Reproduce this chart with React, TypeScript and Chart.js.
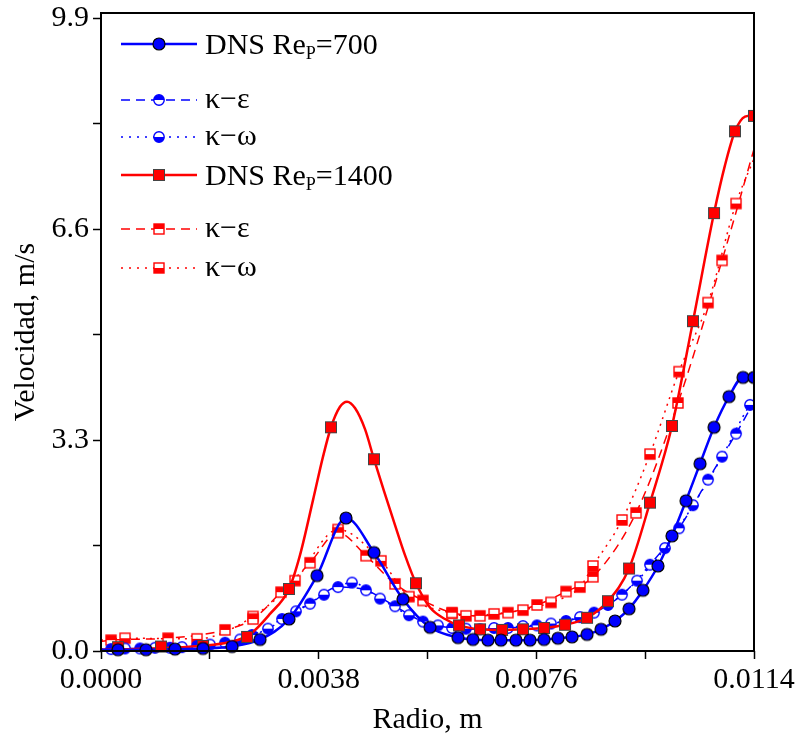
import React, { useEffect, useRef } from 'react';
import { Chart, registerables } from 'chart.js';

Chart.register(...registerables);

const FONT = '"Liberation Serif", "Times New Roman", serif';
const BLUE = '#0000ff';
const RED = '#ff0000';

// Axes
const xMin = 0;
const xMax = 0.0114;
const yMin = 0;
const yMax = 9.98;
const xMajorTicks = [0, 0.0038, 0.0076, 0.0114];
const xTickLabels = ['0.0000', '0.0038', '0.0076', '0.0114'];
const xMinorTicks = [0.0019, 0.0057, 0.0095];
const yMajorTicks = [0, 3.3, 6.6, 9.9];
const yTickLabels = ['0.0', '3.3', '6.6', '9.9'];
const yMinorTicks = [1.65, 4.95, 8.25];
const xTitle = 'Radio, m';
const yTitle = 'Velocidad, m/s';

// Legend
const legendMain = ['DNS Re', 'κ−ε', 'κ−ω', 'DNS Re', 'κ−ε', 'κ−ω'];
const legendSub = ['P', '', '', 'P', '', ''];
const legendTail = ['=700', '', '', '=1400', '', ''];

// DNS Re_P = 700 (markers, line drawn through them)
const dns700X = [0.000297, 0.000786, 0.001292, 0.001781, 0.002287, 0.002776, 0.003282, 0.003771, 0.004277, 0.004766, 0.005272, 0.005744, 0.006233, 0.006494, 0.006756, 0.006983, 0.007245, 0.007489, 0.007734, 0.007978, 0.008223, 0.008485, 0.008729, 0.008973, 0.009218, 0.009462, 0.009724, 0.009968, 0.010213, 0.010458, 0.010702, 0.010964, 0.011208, 0.0114];
const dns700Y = [0.02, 0.02, 0.03, 0.04, 0.07, 0.18, 0.50, 1.18, 2.08, 1.54, 0.81, 0.37, 0.21, 0.18, 0.17, 0.17, 0.17, 0.17, 0.18, 0.20, 0.22, 0.26, 0.34, 0.47, 0.66, 0.95, 1.33, 1.80, 2.35, 2.93, 3.50, 3.98, 4.28, 4.28];
const dns700StartY = 0.02;

// DNS Re_P = 1400 (markers)
const dns1400X = [0.000297, 0.001047, 0.001781, 0.002549, 0.003282, 0.004015, 0.004766, 0.005499, 0.00625, 0.006617, 0.007001, 0.007367, 0.007734, 0.008101, 0.008485, 0.008851, 0.009218, 0.009584, 0.009968, 0.010335, 0.010702, 0.011068, 0.0114];
const dns1400Y = [0.06, 0.07, 0.08, 0.22, 0.97, 3.50, 3.00, 1.06, 0.40, 0.34, 0.33, 0.34, 0.36, 0.41, 0.52, 0.78, 1.29, 2.32, 3.52, 5.16, 6.85, 8.13, 8.37];
// DNS Re_P = 1400 (fitted curve)
const dns1400CurveX = [0, 0.000855, 0.001728, 0.002252, 0.002601, 0.00295, 0.003282, 0.003474, 0.003701, 0.003876, 0.004015, 0.004172, 0.004295, 0.004434, 0.004609, 0.004766, 0.004941, 0.005133, 0.005307, 0.005499, 0.005744, 0.006006, 0.00625, 0.006617, 0.007001, 0.007367, 0.007734, 0.008101, 0.008485, 0.008851, 0.009218, 0.009584, 0.009968, 0.010335, 0.010702, 0.010894, 0.011068, 0.011243, 0.0114];
const dns1400CurveY = [0.02, 0.04, 0.08, 0.14, 0.26, 0.58, 0.97, 1.5, 2.36, 3.04, 3.5, 3.82, 3.9, 3.8, 3.47, 3.0, 2.5, 1.97, 1.5, 1.06, 0.68, 0.5, 0.4, 0.34, 0.33, 0.34, 0.36, 0.41, 0.52, 0.78, 1.29, 2.32, 3.52, 5.16, 6.85, 7.6, 8.13, 8.36, 8.38];

// k-epsilon, Re_P = 700
const ke700X = [0.000175, 0.000681, 0.001205, 0.001676, 0.002165, 0.002636, 0.00316, 0.003649, 0.004138, 0.004626, 0.005133, 0.005621, 0.006128, 0.006617, 0.007105, 0.007612, 0.008118, 0.008607, 0.009096, 0.009584, 0.010091, 0.010598, 0.011086];
const ke700Y = [0.03, 0.04, 0.05, 0.08, 0.13, 0.25, 0.50, 0.74, 1.00, 0.95, 0.70, 0.46, 0.36, 0.34, 0.36, 0.40, 0.47, 0.60, 0.88, 1.35, 1.92, 2.68, 3.40];
const ke700Ends = [0.02, 3.9];

// k-omega, Re_P = 700
const kw700X = [0.000419, 0.000943, 0.001414, 0.001903, 0.002427, 0.002915, 0.003404, 0.003893, 0.004382, 0.004871, 0.005377, 0.005883, 0.006372, 0.006861, 0.007367, 0.007856, 0.008362, 0.008851, 0.009358, 0.009846, 0.010335, 0.010842, 0.01133];
const kw700Y = [0.04, 0.05, 0.06, 0.10, 0.18, 0.35, 0.62, 0.88, 1.07, 0.82, 0.56, 0.40, 0.35, 0.36, 0.39, 0.43, 0.53, 0.72, 1.10, 1.61, 2.28, 3.04, 3.85];
const kw700Ends = [0.03, 3.92];

// k-epsilon, Re_P = 1400
const ke1400X = [0.000175, 0.00117, 0.002165, 0.002654, 0.003142, 0.003649, 0.004138, 0.004626, 0.005133, 0.005621, 0.006128, 0.006617, 0.007105, 0.007612, 0.008118, 0.008589, 0.00934, 0.010073, 0.010842];
const ke1400Y = [0.17, 0.20, 0.33, 0.50, 0.92, 1.38, 1.85, 1.49, 1.05, 0.79, 0.60, 0.55, 0.60, 0.72, 0.93, 1.16, 2.16, 3.88, 6.11];
const ke1400Ends = [0.15, 7.85];

// k-omega, Re_P = 1400
const kw1400X = [0.000419, 0.001676, 0.002654, 0.003387, 0.004138, 0.004888, 0.005377, 0.006128, 0.006372, 0.006861, 0.007367, 0.007856, 0.008362, 0.008589, 0.009096, 0.009584, 0.010091, 0.010598, 0.011086];
const kw1400Y = [0.20, 0.19, 0.54, 1.10, 1.90, 1.41, 0.85, 0.59, 0.55, 0.58, 0.64, 0.76, 1.0, 1.33, 2.05, 3.08, 4.37, 5.45, 7.0];
const kw1400Ends = [0.17, 7.7];

function pts(xs: number[], ys: number[]) {
  return xs.map((x, i) => ({ x, y: ys[i] }));
}
function withEnds(xs: number[], ys: number[], ends: number[]) {
  return [{ x: xMin, y: ends[0] }, ...pts(xs, ys), { x: xMax, y: ends[1] }];
}

function makeMarker(kind: string): HTMLCanvasElement {
  const c = document.createElement('canvas');
  const s = 16;
  c.width = s;
  c.height = s;
  const g = c.getContext('2d') as CanvasRenderingContext2D;
  const m = s / 2;
  if (kind === 'blueDot') {
    g.beginPath();
    g.arc(m, m, 6, 0, Math.PI * 2);
    g.fillStyle = BLUE;
    g.fill();
    g.lineWidth = 1.2;
    g.strokeStyle = '#000';
    g.stroke();
  } else if (kind === 'blueTop' || kind === 'blueBottom') {
    const r = 5.2;
    g.beginPath();
    g.arc(m, m, r, 0, Math.PI * 2);
    g.fillStyle = '#fff';
    g.fill();
    g.beginPath();
    if (kind === 'blueTop') g.arc(m, m, r, Math.PI, 0);
    else g.arc(m, m, r, 0, Math.PI);
    g.closePath();
    g.fillStyle = BLUE;
    g.fill();
    g.beginPath();
    g.arc(m, m, r, 0, Math.PI * 2);
    g.lineWidth = 1.4;
    g.strokeStyle = BLUE;
    g.stroke();
  } else if (kind === 'redSquare') {
    g.fillStyle = RED;
    g.fillRect(m - 5.5, m - 5.5, 11, 11);
    g.lineWidth = 1;
    g.strokeStyle = '#444';
    g.strokeRect(m - 5.5, m - 5.5, 11, 11);
  } else {
    const h = 5;
    g.fillStyle = '#fff';
    g.fillRect(m - h, m - h, 2 * h, 2 * h);
    g.fillStyle = RED;
    if (kind === 'redTop') g.fillRect(m - h, m - h, 2 * h, h);
    else g.fillRect(m - h, m, 2 * h, h);
    g.lineWidth = 1.4;
    g.strokeStyle = RED;
    g.strokeRect(m - h, m - h, 2 * h, 2 * h);
  }
  return c;
}

export default function App() {
  const ref = useRef<HTMLCanvasElement | null>(null);

  useEffect(() => {
    const canvas = ref.current;
    if (!canvas) return;

    const mk = {
      blueDot: makeMarker('blueDot'),
      blueTop: makeMarker('blueTop'),
      blueBottom: makeMarker('blueBottom'),
      redSquare: makeMarker('redSquare'),
      redTop: makeMarker('redTop'),
      redBottom: makeMarker('redBottom'),
    };

    const legendStyle = [
      { color: BLUE, width: 2.5, dash: [] as number[], marker: mk.blueDot },
      { color: BLUE, width: 1.5, dash: [9, 6], marker: mk.blueTop },
      { color: BLUE, width: 1.5, dash: [2, 6], marker: mk.blueBottom },
      { color: RED, width: 2.5, dash: [] as number[], marker: mk.redSquare },
      { color: RED, width: 1.5, dash: [9, 6], marker: mk.redTop },
      { color: RED, width: 1.5, dash: [2, 6], marker: mk.redBottom },
    ];
    const rowY = [44, 100, 137, 175, 229, 268];

    const legendPlugin = {
      id: 'customLegend',
      afterDatasetsDraw(chart: any) {
        const ctx = chart.ctx as CanvasRenderingContext2D;
        ctx.save();
        legendMain.forEach((txt, i) => {
          const st = legendStyle[i];
          const y = rowY[i];
          ctx.beginPath();
          ctx.setLineDash(st.dash);
          ctx.lineWidth = st.width;
          ctx.strokeStyle = st.color;
          ctx.moveTo(121, y);
          ctx.lineTo(197, y);
          ctx.stroke();
          ctx.setLineDash([]);
          const mImg = st.marker;
          ctx.drawImage(mImg, 159 - mImg.width / 2, y - mImg.height / 2);
          ctx.fillStyle = '#000';
          ctx.textAlign = 'left';
          ctx.textBaseline = 'alphabetic';
          const isDns = legendSub[i] !== '';
          const base = isDns ? y + 10 : y + 8;
          ctx.font = `30px ${FONT}`;
          let x = 205;
          ctx.fillText(txt, x, base);
          x += ctx.measureText(txt).width;
          if (legendSub[i]) {
            ctx.font = `18px ${FONT}`;
            ctx.fillText(legendSub[i], x, base + 5);
            x += ctx.measureText(legendSub[i]).width;
          }
          if (legendTail[i]) {
            ctx.font = `30px ${FONT}`;
            ctx.fillText(legendTail[i], x, base);
          }
        });
        ctx.restore();
      },
      afterDraw(chart: any) {
        const { left, right, top, bottom } = chart.chartArea;
        const ctx = chart.ctx as CanvasRenderingContext2D;
        ctx.save();
        ctx.lineWidth = 2;
        ctx.strokeStyle = '#000';
        ctx.strokeRect(left, top, right - left, bottom - top);
        ctx.restore();
      },
    };

    const markClip = { left: 8, top: 8, right: 0, bottom: 8 };
    const curve = (label: string, data: any[], color: string, width: number, dash: number[]) => ({
      label,
      data,
      borderColor: color,
      borderWidth: width,
      borderDash: dash,
      pointRadius: 0,
      pointHoverRadius: 0,
      showLine: true,
      fill: false,
      cubicInterpolationMode: 'monotone',
      clip: 1,
    });
    const marks = (label: string, data: any[], style: HTMLCanvasElement) => ({
      label,
      data,
      showLine: false,
      pointStyle: style,
      pointRadius: 6,
      pointHoverRadius: 6,
      clip: markClip,
    });

    const near = (v: number, arr: number[]) => arr.findIndex((a) => Math.abs(a - v) < 1e-9);

    const chart = new Chart(canvas, {
      type: 'line',
      data: {
        datasets: [
          marks('DNS ReP=700', pts(dns700X, dns700Y), mk.blueDot),
          marks('DNS ReP=1400', pts(dns1400X, dns1400Y), mk.redSquare),
          curve('DNS ReP=700 line', [{ x: xMin, y: dns700StartY }, ...pts(dns700X, dns700Y)], BLUE, 2.5, []),
          curve('DNS ReP=1400 line', pts(dns1400CurveX, dns1400CurveY), RED, 2.5, []),
          marks('k-e 700', pts(ke700X, ke700Y), mk.blueTop),
          marks('k-w 700', pts(kw700X, kw700Y), mk.blueBottom),
          marks('k-e 1400', pts(ke1400X, ke1400Y), mk.redTop),
          marks('k-w 1400', pts(kw1400X, kw1400Y), mk.redBottom),
          curve('k-e 700 line', withEnds(ke700X, ke700Y, ke700Ends), BLUE, 1.5, [9, 6]),
          curve('k-w 700 line', withEnds(kw700X, kw700Y, kw700Ends), BLUE, 1.5, [2, 5]),
          curve('k-e 1400 line', withEnds(ke1400X, ke1400Y, ke1400Ends), RED, 1.5, [9, 6]),
          curve('k-w 1400 line', withEnds(kw1400X, kw1400Y, kw1400Ends), RED, 1.5, [2, 5]),
        ] as any,
      },
      options: {
        animation: false,
        responsive: false,
        maintainAspectRatio: false,
        events: [],
        layout: { padding: { left: 0, top: 13, right: 43, bottom: 0 } },
        plugins: { legend: { display: false }, tooltip: { enabled: false } },
        scales: {
          x: {
            type: 'linear',
            min: xMin,
            max: xMax,
            position: 'bottom',
            border: { display: false },
            grid: { display: true, drawOnChartArea: false, drawTicks: true, tickLength: 8, tickColor: '#000', tickWidth: 1.5 },
            afterBuildTicks: (scale: any) => {
              scale.ticks = [...xMajorTicks, ...xMinorTicks].sort((a, b) => a - b).map((v) => ({ value: v }));
            },
            afterFit: (scale: any) => {
              scale.height = 91;
              scale.paddingLeft = 0;
              scale.paddingRight = 0;
            },
            ticks: {
              color: '#000',
              font: { family: FONT, size: 30 },
              padding: 3,
              maxRotation: 0,
              autoSkip: false,
              callback: (v: any) => {
                const i = near(Number(v), xMajorTicks);
                return i >= 0 ? xTickLabels[i] : '';
              },
            },
            title: { display: true, text: xTitle, color: '#000', font: { family: FONT, size: 30 }, padding: { top: 0, bottom: 4 } },
          },
          y: {
            type: 'linear',
            min: yMin,
            max: yMax,
            border: { display: false },
            grid: { display: true, drawOnChartArea: false, drawTicks: true, tickLength: 8, tickColor: '#000', tickWidth: 1.5 },
            afterBuildTicks: (scale: any) => {
              scale.ticks = [...yMajorTicks, ...yMinorTicks].sort((a, b) => a - b).map((v) => ({ value: v }));
            },
            afterFit: (scale: any) => {
              scale.width = 101;
              scale.paddingTop = 0;
              scale.paddingBottom = 0;
            },
            ticks: {
              color: '#000',
              font: { family: FONT, size: 30 },
              padding: 4,
              autoSkip: false,
              callback: (v: any) => {
                const i = near(Number(v), yMajorTicks);
                return i >= 0 ? yTickLabels[i] : '';
              },
            },
            title: { display: true, text: yTitle, color: '#000', font: { family: FONT, size: 30 }, padding: { top: 8, bottom: 0 } },
          },
        },
      } as any,
      plugins: [legendPlugin],
    });

    return () => chart.destroy();
  }, []);

  return (
    <div style={{ position: 'absolute', left: 0, top: 0, width: 797, height: 742, background: '#fff' }}>
      <canvas ref={ref} width={797} height={742} style={{ display: 'block', width: 797, height: 742 }} />
    </div>
  );
}
